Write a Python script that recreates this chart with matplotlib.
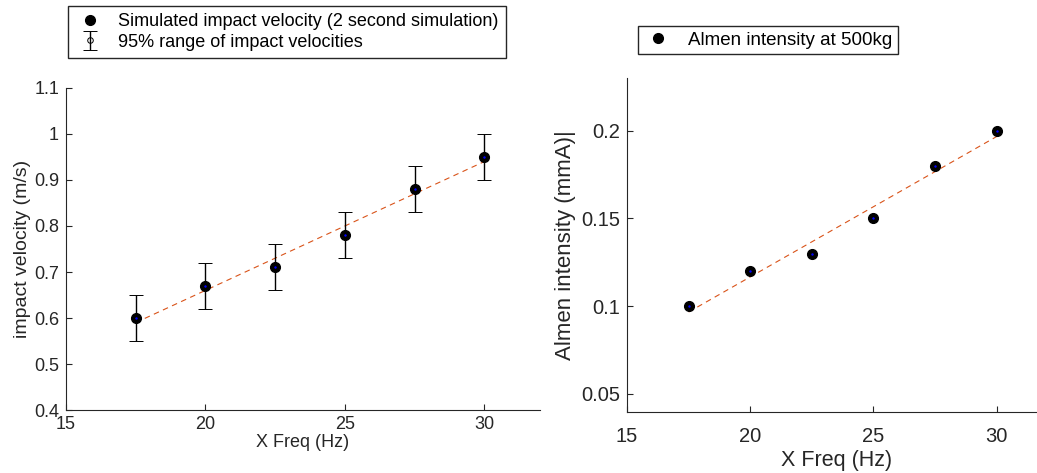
import matplotlib
matplotlib.use("Agg", force=True)
import matplotlib.pyplot as plt
import numpy as np

# data
freq = [17.5, 20, 22.5, 25, 27.5, 30]
impact_velocity = [0.60, 0.67, 0.71, 0.78, 0.88, 0.95]
velocity_err = [0.05, 0.05, 0.05, 0.05, 0.05, 0.05]
almen_intensity = [0.10, 0.12, 0.13, 0.15, 0.18, 0.20]

left_yticks = [0.4, 0.5, 0.6, 0.7, 0.8, 0.9, 1.0, 1.1]
left_yticklabels = ["0.4", "0.5", "0.6", "0.7", "0.8", "0.9", "1", "1.1"]
right_yticks = [0.05, 0.1, 0.15, 0.2]
right_yticklabels = ["0.05", "0.1", "0.15", "0.2"]
xticks = [15, 20, 25, 30]

plt.rcParams["font.family"] = ["Liberation Sans", "DejaVu Sans"]
AX_COL = "#262626"
FIT_COL = "#D95319"


def style_axes(ax, fs, xpad):
    for side in ("top", "right"):
        ax.spines[side].set_visible(False)
    for side in ("left", "bottom"):
        ax.spines[side].set_color(AX_COL)
        ax.spines[side].set_linewidth(0.8)
    ax.tick_params(direction="in", length=4, width=0.8, colors=AX_COL,
                   labelsize=fs, labelcolor=AX_COL)
    ax.tick_params(axis="y", pad=5)
    ax.tick_params(axis="x", pad=xpad)


def fit_line(x, y):
    coef = np.polyfit(x, y, 1)
    xs = np.array([min(x), max(x)])
    return xs, np.polyval(coef, xs)


fig = plt.figure(figsize=(10.37, 4.73), dpi=100)

# left panel
ax1 = fig.add_axes([66 / 1037, 63 / 473, 474 / 1037, 322 / 473])
xs, ys = fit_line(freq, impact_velocity)
ax1.plot(xs, ys, "--", color=FIT_COL, lw=0.8, dashes=(5, 4), zorder=2)
eb = ax1.errorbar(freq, impact_velocity, yerr=velocity_err, fmt="o", ms=4,
                  mfc="none", mec="black", mew=0.7, ecolor="black",
                  elinewidth=1.0, capsize=5, capthick=1.0, zorder=3,
                  label="95% range of impact velocities")
dots, = ax1.plot(freq, impact_velocity, "o", color="black", ms=7, zorder=4,
                 label="Simulated impact velocity (2 second simulation)")
ax1.plot(freq, impact_velocity, ".", color="blue", ms=1.5, zorder=5)
ax1.set_xlim(15, 32)
ax1.set_ylim(0.4, 1.1)
ax1.set_xticks(xticks)
ax1.set_yticks(left_yticks)
ax1.set_yticklabels(left_yticklabels)
style_axes(ax1, 13, 4)
ax1.set_xlabel("X Freq (Hz)", fontsize=13, color=AX_COL, labelpad=1)
ax1.set_ylabel("impact velocity (m/s)", fontsize=14, color=AX_COL, labelpad=2)

fig.legend([dots, eb], [dots.get_label(), eb.get_label()], loc="center",
           bbox_to_anchor=(287 / 1037, 1 - 32 / 473), fontsize=13,
           fancybox=False, framealpha=1, edgecolor=AX_COL,
           handletextpad=0.8, borderpad=0.4, labelspacing=0.2,
           handlelength=1.6)

# right panel
ax2 = fig.add_axes([627 / 1037, 61 / 473, 419 / 1037, 334 / 473])
xs, ys = fit_line(freq, almen_intensity)
ax2.plot(xs, ys, "--", color=FIT_COL, lw=0.8, dashes=(5, 4), zorder=2)
dots2, = ax2.plot(freq, almen_intensity, "o", color="black", ms=7, zorder=4,
                  label="Almen intensity at 500kg")
ax2.plot(freq, almen_intensity, ".", color="blue", ms=1.5, zorder=5)
ax2.set_xlim(15, 32)
ax2.set_ylim(0.0397, 0.230)
ax2.set_xticks(xticks)
ax2.set_yticks(right_yticks)
ax2.set_yticklabels(right_yticklabels)
style_axes(ax2, 14.5, 11)
ax2.set_xlabel("X Freq (Hz)", fontsize=15.5, color=AX_COL, labelpad=3)
ax2.set_ylabel("Almen intensity (mmA)|", fontsize=16, color=AX_COL, labelpad=4)

fig.legend([dots2], [dots2.get_label()], loc="center",
           bbox_to_anchor=(768 / 1037, 1 - 40 / 473), fontsize=13.5,
           fancybox=False, framealpha=1, edgecolor=AX_COL,
           handletextpad=0.8, borderpad=0.3, handlelength=1.6)

fig.savefig("out.png", dpi=100)
